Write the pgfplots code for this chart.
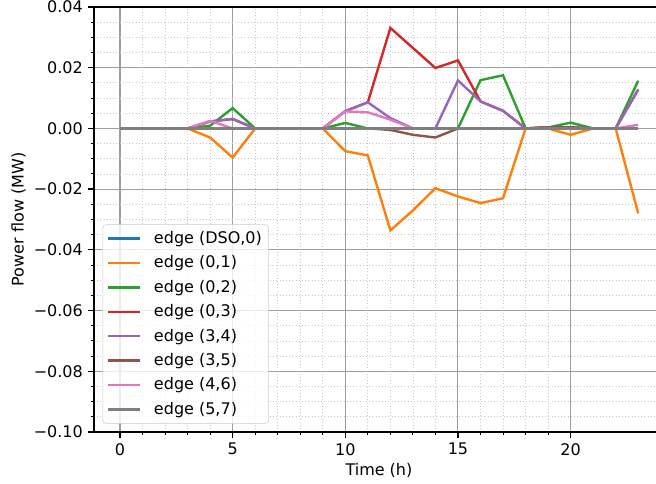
\documentclass[border=0pt]{standalone}
\usepackage{fontspec}
\setmainfont{DejaVu Sans}
\usepackage{pgfplots}
\pgfplotsset{compat=1.18}
\usepackage{pgfplotstable}
\definecolor{c0}{HTML}{1F77B4}
\definecolor{c1}{HTML}{FF7F0E}
\definecolor{c2}{HTML}{2CA02C}
\definecolor{c3}{HTML}{D62728}
\definecolor{c4}{HTML}{9467BD}
\definecolor{c5}{HTML}{8C564B}
\definecolor{c6}{HTML}{E377C2}
\definecolor{c7}{HTML}{7F7F7F}
\pgfplotstableread{
t dso o01 g02 r03 p34 b35 pk46 g57
0 0 0 0 0 0 0 0 0
1 0 0 0 0 0 0 0 0
2 0 0 0 0 0 0 0 0
3 0 0 0 0 0 0 0 0
4 0 -0.0030 0.0009 0.0023 0.0023 0 0.0025 0
5 0 -0.0096 0.0067 0.0031 0.0031 0 0 0
6 0 0 0 0 0 0 0 0
7 0 0 0 0 0 0 0 0
8 0 0 0 0 0 0 0 0
9 0 0 0 0 0 0 0 0
10 0 -0.0075 0.0018 0.0057 0.0057 0 0.0056 0
11 0 -0.0089 0 0.0086 0.0086 0 0.0053 0
12 0 -0.0336 0 0.0331 0.0034 -0.0005 0.0029 0
13 0 -0.0270 0 0.0265 0 -0.0021 0 0
14 0 -0.0197 0 0.0199 0 -0.0030 0 0
15 0 -0.0224 0 0.0224 0.0158 0 0 0
16 0 -0.0246 0.0159 0.0089 0.0089 0 0 0
17 0 -0.0230 0.0175 0.0058 0.0058 0 0 0
18 0 0 0 0 0 0 0 0
19 0 0 0.0003 0.0004 0 0.0004 0 0
20 0 -0.0021 0.0019 0.0004 0 0.0004 0 0
21 0 0 0 0 0 0 0 0
22 0 0 0 0 0 0 0 0
23 0 -0.0280 0.0157 0.0128 0.0128 0 0.0012 0
}\data
\begin{document}
\fontsize{12}{14.4}\selectfont
\begin{tikzpicture}
\begin{axis}[
  scale only axis, width=421.5pt, height=318.75pt,
  xmin=-1.154, xmax=23.79, ymin=-0.10, ymax=0.04,
  axis x line*=box, axis y line*=left,
  axis line style={black, line width=0.96pt},
  xtick pos=bottom, ytick pos=left,
  tick align=outside,
  major tick length=4.2pt, minor tick length=2.4pt,
  major tick style={black, line width=0.96pt},
  minor tick style={black, line width=0.72pt},
  xtick={0,5,10,15,20}, minor x tick num=4,
  ytick={-0.1,-0.08,-0.06,-0.04,-0.02,0,0.02,0.04},
  yticklabels={−0.10,−0.08,−0.06,−0.04,−0.02,0.00,0.02,0.04},
  minor y tick num=3,
  /pgf/number format/assume math mode=true,
  ticklabel style={font=\fontsize{12}{14.4}\selectfont},
  grid=both,
  major grid style={black!38, line width=0.8pt},
  minor grid style={black!22, dotted, line width=0.6pt},
  xlabel={Time (h)}, ylabel={Power flow (MW)},
  every axis x label/.style={at={(axis description cs:0.507,0)}, anchor=center, yshift=-28.5pt, font=\fontsize{12}{14.4}\selectfont},
  every axis y label/.style={at={(axis description cs:-0.1343,0.5)}, anchor=center, rotate=90, font=\fontsize{12}{14.4}\selectfont},
  legend cell align=left,
  legend image code/.code={\draw[#1, line width=1.8pt] (0pt,0pt) -- (24pt,0pt);},
  legend style={at={(0,0)}, anchor=south west, xshift=6.5pt, yshift=6.2pt,
    draw=black!20, rounded corners=2.5pt, fill=white, fill opacity=0.8, text opacity=1,
    font=\fontsize{12}{14.4}\selectfont, row sep=3.4pt, inner xsep=3pt, inner ysep=3pt,
    /tikz/every odd column/.append style={column sep=7.5pt}},
  every axis plot/.append style={line width=1.8pt},
]
\addplot[c0] table[x=t,y=dso]{\data};
\addplot[c1] table[x=t,y=o01]{\data};
\addplot[c2] table[x=t,y=g02]{\data};
\addplot[c3] table[x=t,y=r03]{\data};
\addplot[c4] table[x=t,y=p34]{\data};
\addplot[c5] table[x=t,y=b35]{\data};
\addplot[c6] table[x=t,y=pk46]{\data};
\addplot[c7] table[x=t,y=g57]{\data};
\legend{{edge (DSO,0)},{edge (0,1)},{edge (0,2)},{edge (0,3)},{edge (3,4)},{edge (3,5)},{edge (4,6)},{edge (5,7)}}
\coordinate (bl) at (rel axis cs:0,0);
\coordinate (tr) at (rel axis cs:1,1);
\end{axis}
\pgfresetboundingbox
\path[use as bounding box] ([shift={(-70.5pt,-39pt)}]bl) rectangle ([shift={(0pt,5.25pt)}]tr);
\end{tikzpicture}
\end{document}
